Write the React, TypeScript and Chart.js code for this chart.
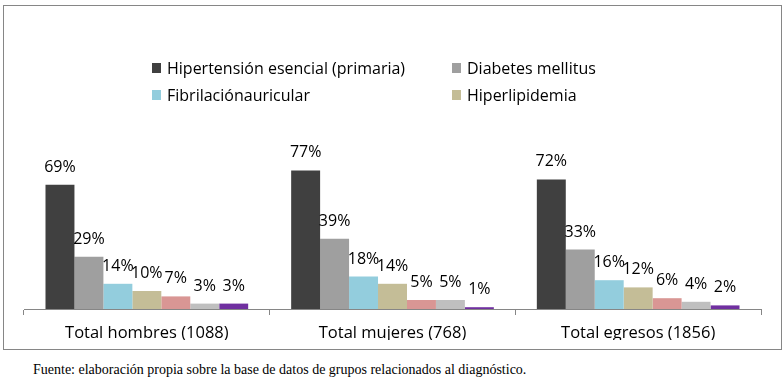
import React, { useEffect, useRef } from "react";
import { Chart, registerables } from "chart.js";

Chart.register(...registerables);

const categories = ["Total hombres (1088)", "Total mujeres (768)", "Total egresos (1856)"];

const hipertension = [69, 77, 72];
const diabetes = [29, 39, 33];
const fibrilacion = [14, 18, 16];
const hiperlipidemia = [10, 14, 12];
const serie5 = [7, 5, 6];
const serie6 = [3, 5, 4];
const serie7 = [3, 1, 2];

const seriesNames = [
  "Hipertensión esencial (primaria)",
  "Diabetes mellitus",
  "Fibrilaciónauricular",
  "Hiperlipidemia",
  "Serie 5",
  "Serie 6",
  "Serie 7",
];
const seriesData = [hipertension, diabetes, fibrilacion, hiperlipidemia, serie5, serie6, serie7];
const seriesColors = ["#404040", "#9f9f9f", "#93cddd", "#c4bd97", "#d99694", "#bfbfbf", "#7030a0"];
const legendShown = 4;

const sourceText = "Fuente: elaboración propia sobre la base de datos de grupos relacionados al diagnóstico.";

const SANS = '"Open Sans", "Noto Sans", sans-serif';

const gridLegend = {
  id: "gridLegend",
  afterDraw(chart: any) {
    const ctx = chart.ctx as CanvasRenderingContext2D;
    const colX = [148, 448];
    const rowY = [62, 89];
    ctx.save();
    ctx.font = `16px ${SANS}`;
    ctx.textBaseline = "middle";
    ctx.textAlign = "left";
    chart.data.datasets.slice(0, legendShown).forEach((ds: any, i: number) => {
      const x = colX[i % 2];
      const y = rowY[Math.floor(i / 2)];
      ctx.fillStyle = ds.backgroundColor;
      ctx.fillRect(x, y - 5, 9, 10);
      ctx.fillStyle = "#000";
      ctx.fillText(ds.label, x + 15, y + 1);
    });
    ctx.restore();
  },
};

const barLabels = {
  id: "barLabels",
  afterDatasetsDraw(chart: any) {
    const ctx = chart.ctx as CanvasRenderingContext2D;
    ctx.save();
    ctx.font = `16px ${SANS}`;
    ctx.fillStyle = "#000";
    ctx.textAlign = "center";
    ctx.textBaseline = "alphabetic";
    chart.data.datasets.forEach((ds: any, di: number) => {
      const meta = chart.getDatasetMeta(di);
      meta.data.forEach((el: any, i: number) => {
        ctx.fillText(`${ds.data[i]}%`, el.x, el.y - 13);
      });
    });
    ctx.restore();
  },
};

export default function App() {
  const ref = useRef<HTMLCanvasElement | null>(null);
  useEffect(() => {
    if (!ref.current) return;
    const chart = new Chart(ref.current, {
      type: "bar",
      data: {
        labels: categories,
        datasets: seriesData.map((d, i) => ({
          label: seriesNames[i],
          data: d,
          backgroundColor: seriesColors[i],
          borderWidth: 0,
          categoryPercentage: 0.825,
          barPercentage: 1,
        })),
      },
      options: {
        animation: false,
        responsive: false,
        maintainAspectRatio: false,
        devicePixelRatio: 1,
        layout: { padding: { left: 20, right: 20, top: 123, bottom: 8 } },
        plugins: {
          legend: { display: false },
          tooltip: { enabled: false },
          title: { display: false },
        },
        scales: {
          y: { display: false, min: 0, max: 100 },
          x: {
            afterFit(scale: any) {
              scale.height = 31;
            },
            grid: { display: true, drawOnChartArea: false, drawTicks: true, tickLength: 6, color: "#868686", offset: true },
            border: { display: true, color: "#868686", width: 1 },
            ticks: { font: { family: SANS, size: 16.5 }, color: "#000", padding: 8, maxRotation: 0 },
          },
        },
      },
      plugins: [gridLegend, barLabels],
    });
    return () => chart.destroy();
  }, []);

  return (
    <div style={{ position: "absolute", left: 0, top: 0, width: 784, height: 388, background: "#fff" }}>
      <div
        style={{
          position: "absolute",
          left: 3,
          top: 5,
          width: 779,
          height: 345,
          boxSizing: "border-box",
          border: "1px solid #868686",
        }}
      />
      <canvas ref={ref} width={777} height={342} style={{ position: "absolute", left: 4, top: 6, width: 777, height: 342 }} />
      <div
        style={{
          position: "absolute",
          left: 33,
          top: 363,
          fontFamily: '"Liberation Serif", serif',
          fontSize: 14,
          lineHeight: "14px",
          color: "#000",
          whiteSpace: "nowrap",
        }}
      >
        {sourceText}
      </div>
    </div>
  );
}
